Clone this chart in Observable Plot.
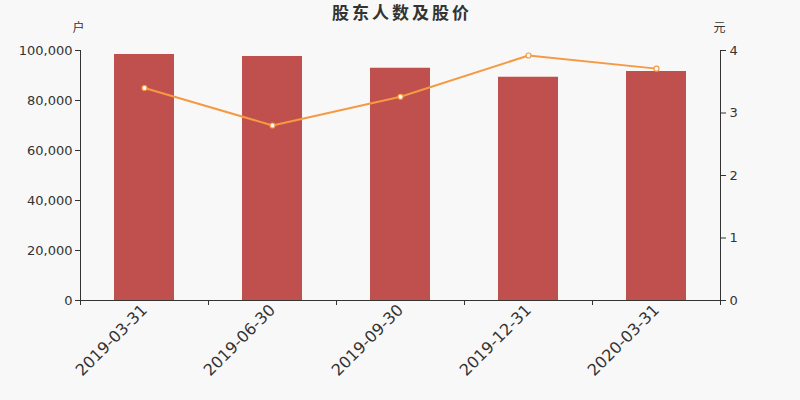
<!DOCTYPE html>
<html><head><meta charset="utf-8">
<script src="https://cdn.jsdelivr.net/npm/d3@7"></script>
<script src="https://cdn.jsdelivr.net/npm/@observablehq/plot@0.6"></script>
<style>body{margin:0;background:#f8f8f8;}</style>
</head><body><div id="chart"></div>
<script>
const dates = ["2019-03-31","2019-06-30","2019-09-30","2019-12-31","2020-03-31"];
const holders = [98400, 97600, 92900, 89300, 91600];
const prices = [3.40, 2.80, 3.26, 3.92, 3.71];
const leftTicks = [0, 20000, 40000, 60000, 80000, 100000];
const rightTicks = [0, 1, 2, 3, 4];
const title = "股东人数及股价";
const leftUnit = "户";
const rightUnit = "元";

const ratio = 100000 / 4;
const rows = dates.map((d, i) => ({date: d, holders: holders[i], price: prices[i]}));
const font = "'DejaVu Sans','Noto Sans CJK SC',sans-serif";
const ink = "#333";
const half = 64;

const plot = Plot.plot({
  width: 800, height: 400,
  marginLeft: 80, marginRight: 80, marginTop: 50, marginBottom: 100,
  style: {background: "#f8f8f8", fontFamily: font, color: ink, fontSize: "12px"},
  x: {type: "band", domain: dates, padding: 0},
  y: {domain: [0, 100000]},
  marks: [
    Plot.barY(rows, {x: "date", y: "holders", fill: "#c0504d", insetLeft: 34, insetRight: 34}),
    Plot.line(rows, {x: "date", y: d => d.price * ratio, stroke: "#f59a42", strokeWidth: 2}),
    Plot.dot(rows, {x: "date", y: d => d.price * ratio, r: 2.5, fill: "#fff", stroke: "#f59a42", strokeWidth: 1.2}),
    Plot.axisY(leftTicks, {anchor: "left", tickFormat: d3.format(","), tickSize: 5, tickPadding: 3, fontSize: 13, label: null, stroke: ink}),
    Plot.axisY(rightTicks.map(v => v * ratio), {anchor: "right", tickFormat: d => d / ratio, tickSize: 5, tickPadding: 4, fontSize: 13, label: null, stroke: ink}),
    Plot.axisX({tickRotate: -45, tickSize: 0, tickPadding: 7, fontSize: 16, label: null}),
    Plot.ruleY([0], {stroke: ink}),
    Plot.ruleX(dates, {dx: -half, y1: 0, y2: -2000, stroke: ink}),
    Plot.ruleX([dates[dates.length - 1]], {dx: half, y1: 0, y2: -2000, stroke: ink}),
    Plot.ruleX([dates[0]], {dx: -half, y1: 0, y2: 100000, stroke: ink}),
    Plot.ruleX([dates[dates.length - 1]], {dx: half, y1: 0, y2: 100000, stroke: ink}),
    Plot.text([title], {frameAnchor: "top", lineAnchor: "middle", textAnchor: "middle", dy: -37, dx: 1.5, fontSize: 17, fontWeight: "bold", fill: ink}),
    Plot.text([leftUnit], {frameAnchor: "top-left", lineAnchor: "middle", textAnchor: "middle", dx: -2, dy: -22, fontSize: 12, fill: ink}),
    Plot.text([rightUnit], {frameAnchor: "top-right", lineAnchor: "middle", textAnchor: "middle", dx: -1, dy: -22, fontSize: 12, fill: ink})
  ]
});
d3.select(plot).selectAll("text").filter(function () { return this.textContent === title; })
  .style("letter-spacing", "3px");
document.getElementById("chart").appendChild(plot);
</script>
</body></html>
